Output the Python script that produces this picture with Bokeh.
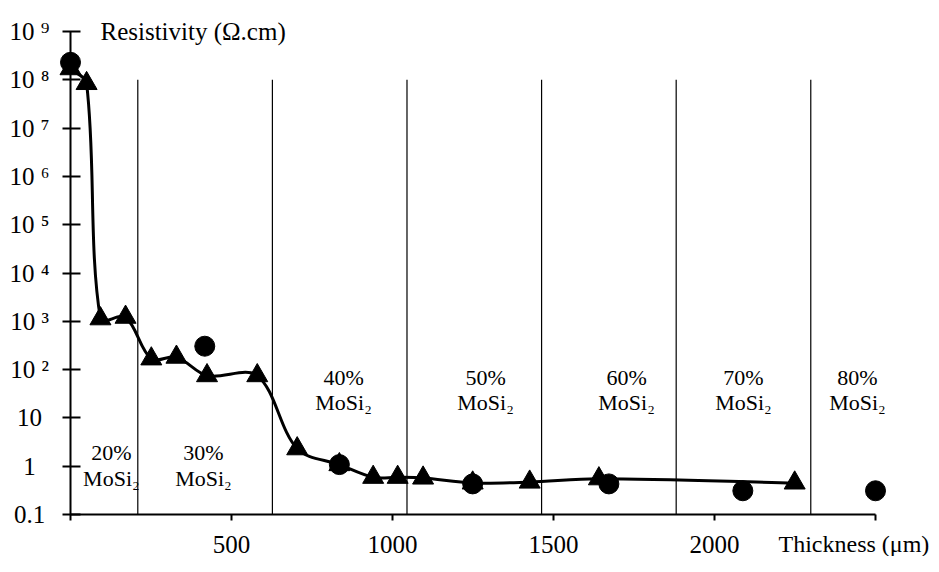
import numpy as np
from bokeh.plotting import figure
from bokeh.models import FixedTicker, Range1d, Label, LabelSet, ColumnDataSource
from bokeh.core.properties import value
from bokeh.embed import file_html
from bokeh.resources import INLINE

# ---------------- data ----------------
circle_x = [0, 417, 835, 1249, 1672, 2088, 2500]
circle_y = [2.3e8, 305, 1.08, 0.43, 0.43, 0.31, 0.31]

tri_x = [0, 50, 93, 171, 251, 329, 424, 580, 704, 835, 940, 1016, 1095, 1249, 1426, 1641, 2249]
tri_y = [1.7e8, 8.4e7, 1130, 1216, 167, 181, 75, 75, 2.3, 1.08, 0.59, 0.59, 0.57, 0.45, 0.47, 0.55, 0.45]

boundaries = [209, 627, 1045, 1463, 1881, 2299]
boundary_top = 1e8

region_pct = ["20%", "30%", "40%", "50%", "60%", "70%", "80%"]
region_name = ["MoSi₂"] * 7
region_label_x = [127, 413, 848, 1289, 1727, 2090, 2444]
region_pct_y = [1.92, 1.92, 68.6, 68.6, 68.6, 68.6, 68.6]
region_name_y = [0.556, 0.556, 20.9, 20.9, 20.9, 20.9, 20.9]

x_ticks = [0, 500, 1000, 1500, 2000, 2500]
x_tick_labels = ["", "500", "1000", "1500", "2000", ""]
y_ticks = [0.1, 1, 10, 1e2, 1e3, 1e4, 1e5, 1e6, 1e7, 1e8, 1e9]
y_tick_labels = ["0.1", "1", "10", "10 ²", "10 ³", "10 ⁴", "10 ⁵", "10 ⁶", "10 ⁷", "10 ⁸", "10 ⁹"]

y_title = "Resistivity (Ω.cm)"
x_title = "Thickness (μm)"

# ---------------- layout (pixels) ----------------
FONT = "Liberation Serif"
W, H = 931, 556
X0_PX = 70          # where thickness 0 sits
PX_PER_UNIT = 805 / 2500.0
TOP_PX = 31         # where 1e9 sits
PX_PER_DECADE = 48.3
LOG_TOP = 9
Y_LABEL_CENTER_PX = 29
X_LABEL_TOP_PX = 530


def x_at(px):
    return (px - X0_PX) / PX_PER_UNIT


def y_at(px):
    return 10 ** (LOG_TOP - (px - TOP_PX) / PX_PER_DECADE)


p = figure(width=W, height=H, output_backend="svg", toolbar_location=None,
           y_axis_type="log", title=None,
           x_range=Range1d(x_at(0), x_at(W)), y_range=Range1d(y_at(H), y_at(0)),
           min_border_left=0, min_border_right=0, min_border_top=0, min_border_bottom=0)
p.outline_line_color = None
p.xgrid.visible = False
p.ygrid.visible = False
p.background_fill_color = "white"
p.border_fill_color = "white"

# x axis
xa = p.xaxis[0]
xa.fixed_location = min(y_ticks)
xa.ticker = FixedTicker(ticks=x_ticks, minor_ticks=[])
xa.major_label_overrides = {t: l for t, l in zip(x_ticks, x_tick_labels)}
xa.bounds = (min(x_ticks), max(x_ticks))
xa.axis_line_width = 2
xa.axis_line_color = "black"
xa.major_tick_line_width = 2
xa.major_tick_line_color = "black"
xa.major_tick_in = 0
xa.major_tick_out = 6
xa.minor_tick_line_color = None
xa.major_label_standoff = 15
xa.major_label_text_font = FONT
xa.major_label_text_font_size = "25px"
xa.major_label_text_color = "black"

# y axis (its labels are drawn centred by the LabelSet below, as in the reference)
ya = p.yaxis[0]
ya.fixed_location = 0
ya.ticker = FixedTicker(ticks=y_ticks, minor_ticks=[])
ya.major_label_overrides = {t: "" for t in y_ticks}
ya.bounds = (min(y_ticks), max(y_ticks))
ya.axis_line_width = 2
ya.axis_line_color = "black"
ya.major_tick_line_width = 2
ya.major_tick_line_color = "black"
ya.major_tick_in = 10
ya.major_tick_out = 8
ya.minor_tick_line_color = None

ysrc = ColumnDataSource(dict(x=[x_at(Y_LABEL_CENTER_PX)] * len(y_ticks), y=y_ticks, text=y_tick_labels))
p.add_layout(LabelSet(x="x", y="y", text="text", source=ysrc,
                      text_align="center", text_baseline="middle",
                      text_font=value(FONT), text_font_size=value("25px"), text_color="black"))

# region boundaries
p.segment(x0=boundaries, y0=[min(y_ticks)] * len(boundaries), x1=boundaries,
          y1=[boundary_top] * len(boundaries), line_color="black", line_width=1.2)

# region labels
p.text(x=region_label_x, y=region_pct_y, text=region_pct, text_align="center", text_baseline="middle",
       text_font=value(FONT), text_font_size=value("22px"), text_color="black")
p.text(x=region_label_x, y=region_name_y, text=region_name, text_align="center", text_baseline="middle",
       text_font=value(FONT), text_font_size=value("22px"), text_color="black")

# smoothed line: Bezier through the points, tangents weighted by segment length (screen-proportional)
sx = np.array(tri_x, dtype=float) * PX_PER_UNIT
sy = np.log10(np.array(tri_y, dtype=float)) * PX_PER_DECADE
n = len(sx)
seg = np.hypot(np.diff(sx), np.diff(sy))
tx = np.zeros(n)
ty = np.zeros(n)
for k in range(n):
    a = max(k - 1, 0)
    b = min(k + 1, n - 1)
    la = seg[k - 1] if k > 0 else 0.0
    lb = seg[k] if k < n - 1 else 0.0
    tx[k] = (sx[b] - sx[a]) / (la + lb)
    ty[k] = (sy[b] - sy[a]) / (la + lb)
k = np.arange(n - 1)
c0x = sx[k] + tx[k] * seg / 3.0
c0y = sy[k] + ty[k] * seg / 3.0
c1x = sx[k + 1] - tx[k + 1] * seg / 3.0
c1y = sy[k + 1] - ty[k + 1] * seg / 3.0
p.bezier(x0=np.array(tri_x[:-1], float), y0=tri_y[:-1], x1=np.array(tri_x[1:], float), y1=tri_y[1:],
         cx0=c0x / PX_PER_UNIT, cy0=10 ** (c0y / PX_PER_DECADE),
         cx1=c1x / PX_PER_UNIT, cy1=10 ** (c1y / PX_PER_DECADE),
         line_color="black", line_width=3)

# markers
p.scatter(tri_x, tri_y, marker="triangle", size=21, fill_color="black", line_color="black")
p.scatter(circle_x, circle_y, marker="circle", size=20, fill_color="black", line_color="black")

# titles
p.add_layout(Label(x=x_at(100), y=max(y_ticks), text=y_title, text_align="left", text_baseline="middle",
                   text_font=FONT, text_font_size="25px", text_color="black"))
p.add_layout(Label(x=x_at(778), y=y_at(X_LABEL_TOP_PX), text=x_title,
                   text_align="left", text_baseline="top",
                   text_font=FONT, text_font_size="24px", text_color="black"))

open("out.html", "w").write(file_html(p, INLINE))
